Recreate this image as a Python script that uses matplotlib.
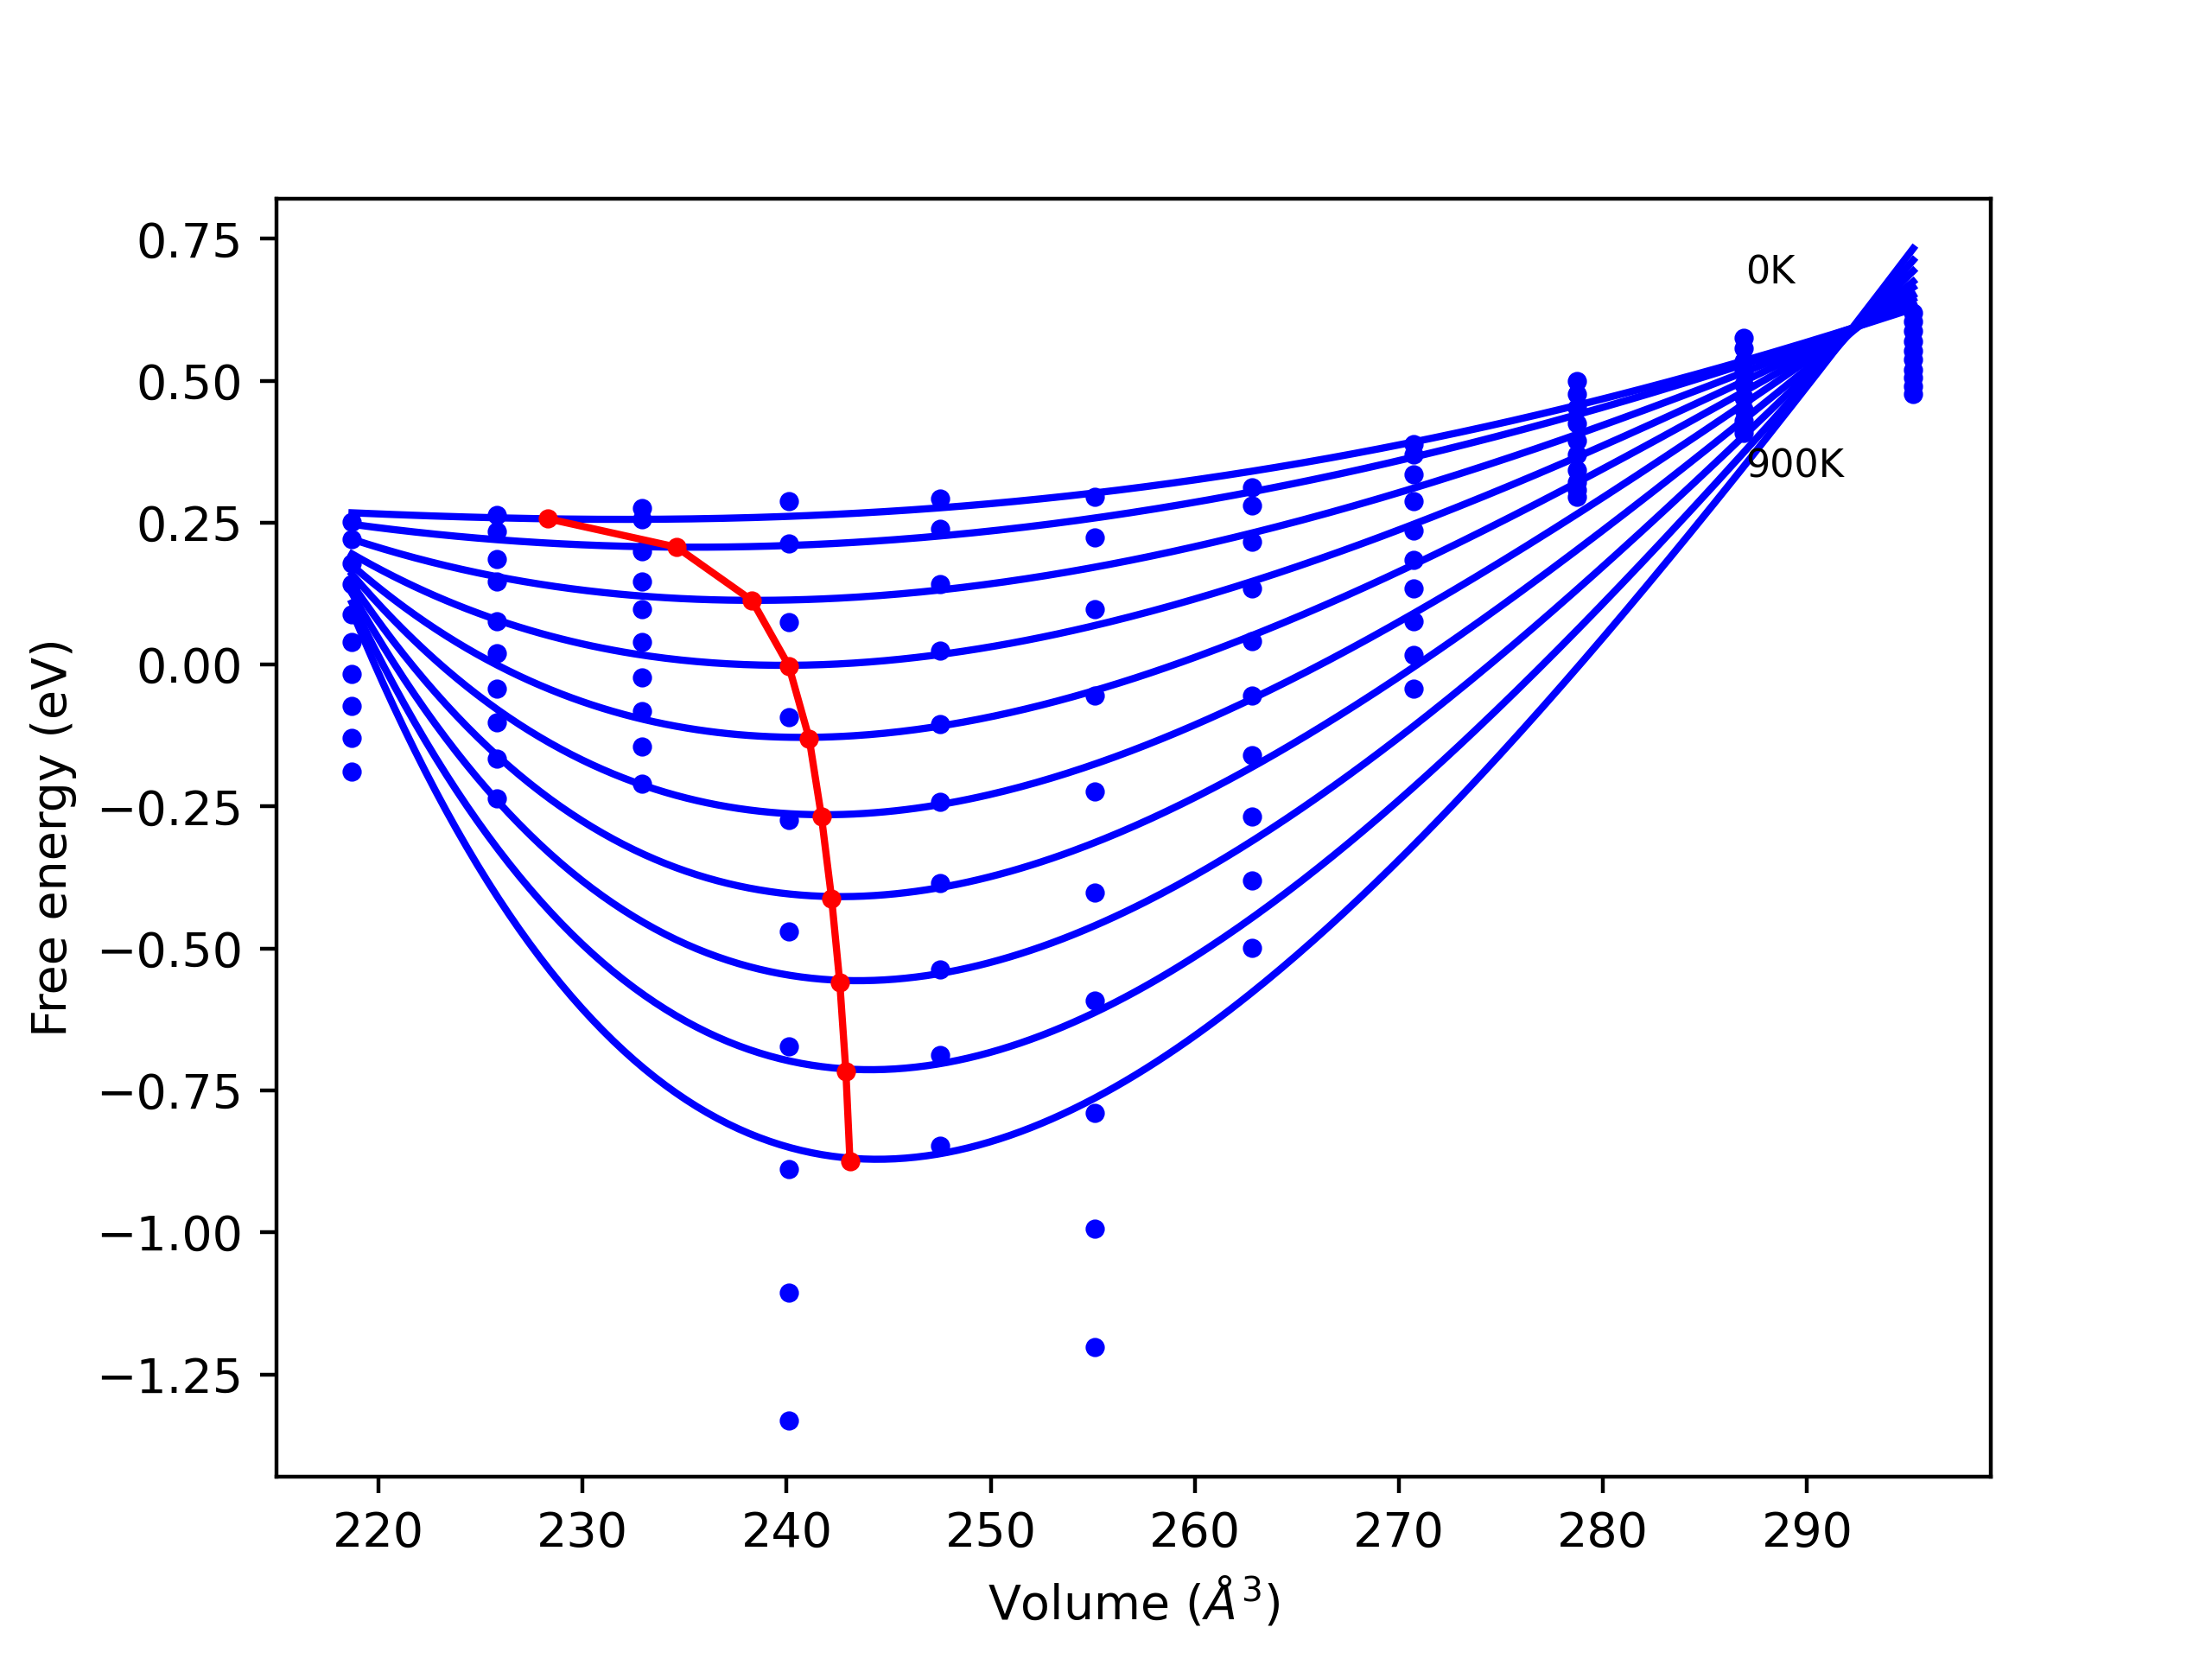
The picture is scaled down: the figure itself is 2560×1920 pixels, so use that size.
import numpy as np
import matplotlib.pyplot as plt

# sampled volumes (A^3)
volumes = [218.7, 225.8, 232.9, 240.1, 247.5, 255.1, 262.8, 270.7, 278.7, 286.9, 295.2]

# scattered free energies per volume (eV), 10 temperatures each
points = {
    218.7: [0.251, 0.221, 0.179, 0.142, 0.089, 0.040, -0.017, -0.072, -0.129, -0.189],
    225.8: [0.263, 0.234, 0.186, 0.147, 0.077, 0.020, -0.042, -0.102, -0.166, -0.236],
    232.9: [0.276, 0.256, 0.199, 0.147, 0.097, 0.040, -0.022, -0.082, -0.144, -0.209],
    240.1: [0.288, 0.214, 0.075, -0.092, -0.273, -0.470, -0.673, -0.889, -1.106, -1.332],
    247.5: [0.293, 0.239, 0.142, 0.025, -0.104, -0.241, -0.385, -0.537, -0.688, -0.847],
    255.1: [0.296, 0.224, 0.097, -0.055, -0.224, -0.402, -0.591, -0.790, -0.994, -1.202],
    262.8: [0.313, 0.281, 0.216, 0.134, 0.042, -0.055, -0.159, -0.268, -0.380, -0.499],
    270.7: [0.388, 0.370, 0.335, 0.288, 0.236, 0.184, 0.134, 0.077, 0.017, -0.042],
    278.7: [0.499, 0.477, 0.452, 0.425, 0.395, 0.370, 0.343, 0.321, 0.308, 0.296],
    286.9: [0.576, 0.557, 0.535, 0.514, 0.493, 0.470, 0.449, 0.430, 0.418, 0.408],
    295.2: [0.620, 0.605, 0.588, 0.570, 0.553, 0.537, 0.520, 0.505, 0.490, 0.477],
}

# fitted curve values at the sampled volumes, 0K .. 900K
curves = [
    [0.265, 0.258, 0.257, 0.262, 0.275, 0.300, 0.337, 0.390, 0.460, 0.545, 0.620],
    [0.245, 0.222, 0.209, 0.212, 0.225, 0.255, 0.300, 0.365, 0.445, 0.535, 0.625],
    [0.215, 0.165, 0.125, 0.114, 0.130, 0.170, 0.230, 0.310, 0.410, 0.520, 0.632],
    [0.180, 0.105, 0.030, -0.002, 0.015, 0.070, 0.150, 0.250, 0.370, 0.500, 0.640],
    [0.150, 0.045, -0.075, -0.128, -0.100, -0.035, 0.060, 0.180, 0.320, 0.480, 0.648],
    [0.120, -0.010, -0.180, -0.262, -0.240, -0.165, -0.050, 0.100, 0.270, 0.460, 0.656],
    [0.090, -0.070, -0.290, -0.405, -0.385, -0.300, -0.165, 0.010, 0.210, 0.430, 0.664],
    [0.060, -0.130, -0.400, -0.552, -0.535, -0.450, -0.300, -0.090, 0.150, 0.410, 0.672],
    [0.030, -0.195, -0.510, -0.707, -0.690, -0.600, -0.430, -0.200, 0.080, 0.395, 0.680],
    [0.000, -0.260, -0.620, -0.862, -0.847, -0.750, -0.560, -0.310, 0.030, 0.380, 0.688],
]

# equilibrium volume / energy per temperature
min_vol = [228.3, 234.6, 238.3, 240.1, 241.1, 241.7, 242.2, 242.6, 242.9, 243.1]
min_energy = [0.257, 0.207, 0.113, -0.002, -0.130, -0.267, -0.412, -0.560, -0.717, -0.875]

fig, ax = plt.subplots(figsize=(6.4, 4.8), dpi=400)

vfine = np.linspace(volumes[0], volumes[-1], 300)
for c, vm, em in zip(curves, min_vol, min_energy):
    # Birch-Murnaghan style fit: cubic in V^(-2/3)
    x = np.append(volumes, vm) ** (-2 / 3)
    y = np.append(c, em)
    w = np.ones(len(x))
    w[-1] = 6
    coef = np.polyfit(x, y, 3, w=w)
    ax.plot(vfine, np.polyval(coef, vfine ** (-2 / 3)), color="blue", lw=1.5)

for v, es in points.items():
    ax.plot(np.full(len(es), v), es, "o", color="blue", ms=3)

ax.plot(min_vol, min_energy, "-o", color="red", ms=3, lw=1.5)

ax.text(287, 0.67, "0K", fontsize=8)
ax.text(287, 0.33, "900K", fontsize=8)

ax.set_xlabel(r"Volume ($\AA^3$)")
ax.set_ylabel("Free energy (eV)")
ax.set_xlim(215, 299)
ax.set_ylim(-1.43, 0.82)

fig.savefig("out.png")
